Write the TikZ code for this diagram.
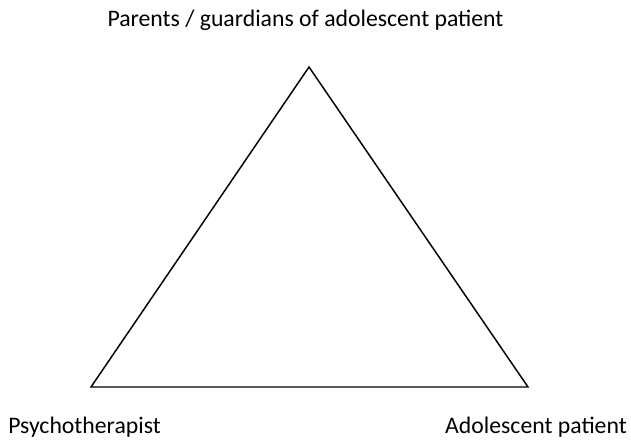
\documentclass[tikz,border=0pt]{standalone}
\usepackage{fontspec}
\setmainfont{Carlito}
\begin{document}
\begin{tikzpicture}[x=0.75pt,y=-0.75pt,
  lbl/.style={inner sep=0pt,anchor=base,font=\fontsize{17.8pt}{21pt}\selectfont}]
\useasboundingbox (0,0) rectangle (631,441);
\coordinate (top) at (309,67);
\coordinate (bl) at (91,387);
\coordinate (br) at (528,387);
\draw[line width=1.1pt,line join=miter] (top) -- (bl) -- (br) -- cycle;
\node[lbl] (tp) at (305.5,27) {Parents / guardians of adolescent patient};
\node[lbl,anchor=base west] (ps) at (8,433) {Psychotherapist};
\node[lbl,anchor=base east] (ad) at (627,433) {Adolescent patient};
\end{tikzpicture}
\end{document}
